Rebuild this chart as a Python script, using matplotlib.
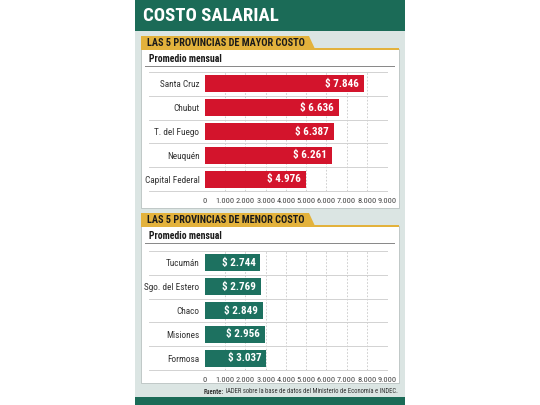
import matplotlib
matplotlib.use("Agg")
import matplotlib.pyplot as plt
from matplotlib.patches import Rectangle, Polygon
from matplotlib import font_manager

W, H = 540, 405

# ---- data ----
title = "COSTO SALARIAL"
sec1_title = "LAS 5 PROVINCIAS DE MAYOR COSTO"
sec2_title = "LAS 5 PROVINCIAS DE MENOR COSTO"
subtitle = "Promedio mensual"
top_provinces = ["Santa Cruz", "Chubut", "T. del Fuego", "Neuquén", "Capital Federal"]
top_values = [7846, 6636, 6387, 6261, 4976]
low_provinces = ["Tucumán", "Sgo. del Estero", "Chaco", "Misiones", "Formosa"]
low_values = [2744, 2769, 2849, 2956, 3037]
x_ticks = [0, 1000, 2000, 3000, 4000, 5000, 6000, 7000, 8000, 9000]
x_tick_labels = ["0", "1.000", "2.000", "3.000", "4.000", "5.000", "6.000", "7.000", "8.000", "9.000"]
source_bold = "Fuente:"
source_text = " IADER sobre la base de datos del Ministerio de Economía e INDEC."

# ---- fonts ----
names = {f.name for f in font_manager.fontManager.ttflist}


def pick(cands):
    for c in cands:
        if c in names:
            return c
    return "DejaVu Sans"


NARROW = pick(["Roboto Condensed", "Archivo Narrow", "Barlow Condensed", "Asap Condensed", "DejaVu Sans"])
plt.rcParams["font.family"] = [NARROW, "DejaVu Sans"]
plt.rcParams["font.stretch"] = "condensed"

GREEN_HDR = "#1b6b57"
BG = "#dbe5e3"
YELLOW = "#e3b23c"
RED = "#d3142c"
GREEN = "#1d7160"
TXT = "#333333"

fig = plt.figure(figsize=(W / 100, H / 100), dpi=100)
fig.patch.set_facecolor("white")


def fx(x):
    return x / W


def fy(y):
    return 1 - y / H


def rect(x0, y0, x1, y1, color, z=0, **kw):
    fig.patches.append(Rectangle((fx(x0), fy(y1)), fx(x1) - fx(x0), fy(y0) - fy(y1),
                                 transform=fig.transFigure, facecolor=color,
                                 edgecolor=kw.pop("ec", "none"), lw=kw.pop("lw", 0),
                                 zorder=z, **kw))


# background and header
rect(135, 0, 405, 405, BG, 0)
rect(135, 0, 405, 31, GREEN_HDR, 1)
rect(135, 397, 405, 405, GREEN_HDR, 1)
fig.text(fx(143), fy(16), title, color="white", fontsize=13.5, fontweight="bold",
         ha="left", va="center")


def section(y_tab, y_panel_bot, sec_title):
    rect(141, y_tab + 13, 399, y_panel_bot, "white", 1, ec="#b9c2c0", lw=0.6)
    rect(141, y_tab + 12, 399, y_tab + 14, YELLOW, 2)
    fig.patches.append(Polygon([(fx(141), fy(y_tab)), (fx(309), fy(y_tab)),
                                (fx(315), fy(y_tab + 13)), (fx(141), fy(y_tab + 13))],
                               closed=True, transform=fig.transFigure,
                               facecolor=YELLOW, edgecolor="none", zorder=2))
    fig.text(fx(147), fy(y_tab + 6.8), sec_title, color="#1a1a1a", fontsize=7.4,
             fontweight="bold", ha="left", va="center", zorder=3)
    fig.text(fx(149), fy(y_tab + 23), subtitle, color="#1a1a1a", fontsize=7,
             fontweight="bold", ha="left", va="center", zorder=3)
    rect(145, y_tab + 30, 395, y_tab + 31.2, "#8a8a8a", 2)


def chart(y_top, y_bot, cats, vals, color):
    ax = fig.add_axes([fx(205), fy(y_bot), fx(387) - fx(205), fy(y_top) - fy(y_bot)])
    ax.set_zorder(5)
    ax.set_facecolor("none")
    n = len(cats)
    ypos = list(range(n))
    ax.barh(ypos, vals, height=0.72, color=color, zorder=3)
    for yi, v in zip(ypos, vals):
        lab = "$ " + f"{v:,}".replace(",", ".")
        ax.text(v - 250, yi, lab, color="white", fontsize=8, fontweight="bold",
                ha="right", va="center", zorder=4)
    ax.set_xlim(0, 9000)
    ax.set_ylim(n - 0.5, -0.5)
    for s in ax.spines.values():
        s.set_visible(False)
    ax.set_xticks(x_ticks)
    ax.set_xticklabels(x_tick_labels, fontsize=6.0, color="#444444")
    ax.set_yticks(ypos)
    ax.set_yticklabels(cats, fontsize=6.7, color=TXT)
    ax.tick_params(length=0, pad=4)
    ax.tick_params(axis="x", pad=5)
    for xt in x_ticks[1:]:
        ax.axvline(xt, color="#c8c8c8", lw=0.6, ls=(0, (2, 2)), zorder=1)
    for b in [i - 0.5 for i in range(n + 1)]:
        ax.axhline(b, xmin=-0.31, xmax=1.0, color="#d2d2d2", lw=0.7,
                   clip_on=False, zorder=1)
    return ax


section(36, 208, sec1_title)
chart(72, 191, top_provinces, top_values, RED)
section(213, 383, sec2_title)
chart(251, 370, low_provinces, low_values, GREEN)

t1 = fig.text(fx(398), fy(391.5), source_text, fontsize=4.8, color=TXT,
              ha="right", va="center", zorder=3)
fig.canvas.draw()
bb = t1.get_window_extent()
fig.text(bb.x0 / fig.bbox.width, fy(391.5), source_bold, fontsize=4.8, color=TXT,
         fontweight="bold", ha="right", va="center", zorder=3)

fig.savefig("out.png", dpi=100, facecolor="white")
